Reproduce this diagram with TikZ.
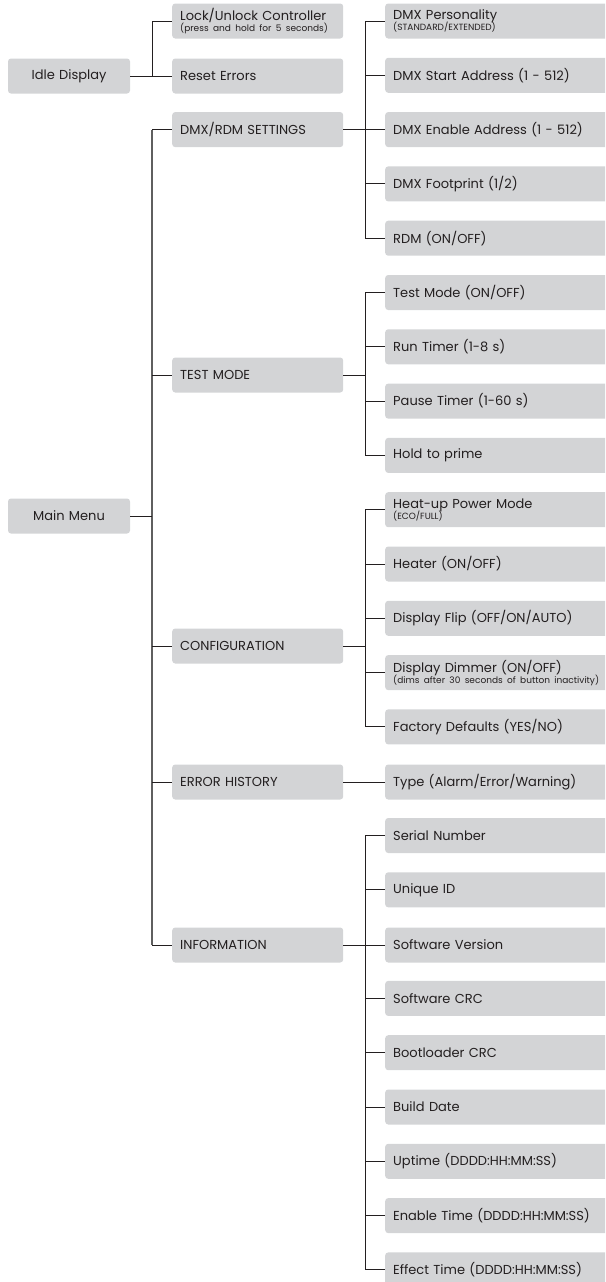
\documentclass[tikz,border=0pt]{standalone}
\usepackage{fontspec}
\setmainfont{Poppins}
\definecolor{boxgray}{RGB}{211,212,214}
\definecolor{ink}{RGB}{35,31,32}
\definecolor{busgray}{RGB}{95,95,95}
\newcommand{\smalltxt}[1]{{\fontsize{9}{9}\selectfont #1}}

\begin{document}
\begin{tikzpicture}[x=1pt,y=-1pt,
  menubox/.style={fill=boxgray,rounded corners=3pt,minimum height=35pt,text width=106pt,
    align=center,inner xsep=8pt,text=ink,font=\fontsize{13}{14}\selectfont},
  groupbox/.style={menubox,text width=155pt,align=left,anchor=west},
  itembox/.style={menubox,text width=216pt,align=left,anchor=west},
  link/.style={draw=ink,line width=0.9pt},
  bus/.style={draw=busgray,line width=1.3pt}]
\useasboundingbox (0,0) rectangle (605,1282);
\clip (0,0) rectangle (605,1282);

% left column
\node[menubox] (idle) at (69,76) {Idle Display};
\node[menubox] (main) at (69,516) {Main Menu};

% idle display branch
\node[groupbox] (lock) at (172,21) {Lock/Unlock Controller\\[-3pt]\smalltxt{(press and hold for 5 seconds)}};
\node[groupbox] (reset) at (172,76) {Reset Errors};
\draw[link] (idle.east) -- (152,76) |- (lock.west);
\draw[link] (idle.east) -- (reset.west);

% main menu groups
\node[groupbox] (dmxset) at (172,129.6) {DMX/RDM SETTINGS};
\node[groupbox] (testmode) at (172,375) {TEST MODE};
\node[groupbox] (config) at (172,646) {CONFIGURATION};
\node[groupbox] (errhist) at (172,782) {ERROR HISTORY};
\node[groupbox] (info) at (172,945) {INFORMATION};

\coordinate (mtop) at (152,129.6);
\coordinate (mbot) at (152,945);
\draw[bus] (mtop) -- (mbot);
\draw[link] (main.east) -- (main.east -| mtop);
\draw[link] (mtop) -- (dmxset.west);
\draw[link] (testmode.west -| mtop) -- (testmode.west);
\draw[link] (config.west -| mtop) -- (config.west);
\draw[link] (errhist.west -| mtop) -- (errhist.west);
\draw[link] (mbot) -- (info.west);

% DMX/RDM settings
\node[itembox] (pers) at (385,21) {DMX Personality\\[-3pt]\smalltxt{(STANDARD/EXTENDED)}};
\node[itembox] (start) at (385,75.3) {DMX Start Address (1 - 512)};
\node[itembox] (enable) at (385,129.6) {DMX Enable Address (1 - 512)};
\node[itembox] (foot) at (385,183.9) {DMX Footprint (1/2)};
\node[itembox] (rdm) at (385,238.2) {RDM (ON/OFF)};
\draw[link] (dmxset.east) -- ++(22,0) |- (pers.west);
\draw[link] (dmxset.east) -- ++(22,0) |- (start.west);
\draw[link] (dmxset.east) -- (enable.west);
\draw[link] (dmxset.east) -- ++(22,0) |- (foot.west);
\draw[link] (dmxset.east) -- ++(22,0) |- (rdm.west);

% test mode
\node[itembox] (tmode) at (385,292.5) {Test Mode (ON/OFF)};
\node[itembox] (run) at (385,346.8) {Run Timer (1-8 s)};
\node[itembox] (pause) at (385,401.1) {Pause Timer (1-60 s)};
\node[itembox] (prime) at (385,455.4) {Hold to prime};
\draw[link] (testmode.east) -- ++(22,0) |- (tmode.west);
\draw[link] (testmode.east) -- ++(22,0) |- (run.west);
\draw[link] (testmode.east) -- ++(22,0) |- (pause.west);
\draw[link] (testmode.east) -- ++(22,0) |- (prime.west);

% configuration
\node[itembox] (heatup) at (385,509.7) {Heat-up Power Mode\\[-3pt]\smalltxt{(ECO/FULL)}};
\node[itembox] (heater) at (385,564) {Heater (ON/OFF)};
\node[itembox] (flip) at (385,618.3) {Display Flip (OFF/ON/AUTO)};
\node[itembox] (dimmer) at (385,672.6) {Display Dimmer (ON/OFF)\\[-3pt]\smalltxt{(dims after 30 seconds of button inactivity)}};
\node[itembox] (factory) at (385,726.9) {Factory Defaults (YES/NO)};
\draw[link] (config.east) -- ++(22,0) |- (heatup.west);
\draw[link] (config.east) -- ++(22,0) |- (heater.west);
\draw[link] (config.east) -- ++(22,0) |- (flip.west);
\draw[link] (config.east) -- ++(22,0) |- (dimmer.west);
\draw[link] (config.east) -- ++(22,0) |- (factory.west);

% error history
\node[itembox] (type) at (385,782) {Type (Alarm/Error/Warning)};
\draw[link] (errhist.east) -- (type.west);

% information
\node[itembox] (serial) at (385,835.5) {Serial Number};
\node[itembox] (uid) at (385,889.8) {Unique ID};
\node[itembox] (swver) at (385,945) {Software Version};
\node[itembox] (swcrc) at (385,998.4) {Software CRC};
\node[itembox] (bootcrc) at (385,1052.7) {Bootloader CRC};
\node[itembox] (build) at (385,1107) {Build Date};
\node[itembox] (uptime) at (385,1161.3) {Uptime (DDDD:HH:MM:SS)};
\node[itembox] (entime) at (385,1215.6) {Enable Time (DDDD:HH:MM:SS)};
\node[itembox] (eftime) at (385,1269.9) {Effect Time (DDDD:HH:MM:SS)};
\draw[link] (info.east) -- ++(22,0) |- (serial.west);
\draw[link] (info.east) -- ++(22,0) |- (uid.west);
\draw[link] (info.east) -- (swver.west);
\draw[link] (info.east) -- ++(22,0) |- (swcrc.west);
\draw[link] (info.east) -- ++(22,0) |- (bootcrc.west);
\draw[link] (info.east) -- ++(22,0) |- (build.west);
\draw[link] (info.east) -- ++(22,0) |- (uptime.west);
\draw[link] (info.east) -- ++(22,0) |- (entime.west);
\draw[link] (info.east) -- ++(22,0) |- (eftime.west);
\end{tikzpicture}
\end{document}
